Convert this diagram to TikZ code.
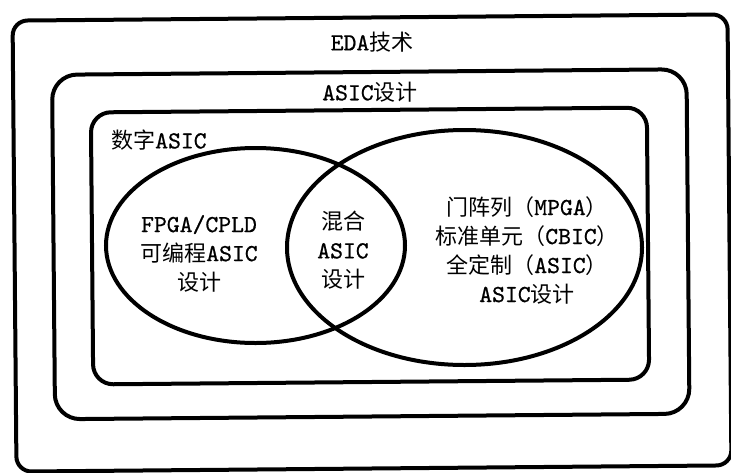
\documentclass[tikz,border=0pt]{standalone}
\usepackage{fontspec}
\newfontfamily\cjkfont{Noto Sans CJK SC}
\newfontfamily\latfont{lmmono10-regular.otf}[FakeBold=0.7]
\newcommand\zh[1]{{\cjkfont\fontsize{22}{29}\selectfont #1}}
\tikzset{
  boxline/.style={line width=4pt, rounded corners=#1},
  venn/.style={line width=4pt},
  lbl/.style={inner sep=0pt, font=\fontsize{24.5}{29}\selectfont\latfont, align=center},
}
\begin{document}
\begin{tikzpicture}[x=1pt,y=-1pt]
\useasboundingbox (0,0) rectangle (731,472);
\fill[white] (0,0) rectangle (731,472);
\begin{scope}[rotate around={0.5:(371,243)}]
  \draw[boxline=15pt] (14.5,17.5) rectangle (729.5,468.5);
  \draw[boxline=25pt] (53.5,72) rectangle (688,416.5);
  \draw[boxline=20pt] (92,110) rectangle (648,382);
\end{scope}
\draw[venn] (255.5,245.5) ellipse [x radius=149.5pt, y radius=97.5pt];
\draw[venn] (464.5,247.5) ellipse [x radius=177.5pt, y radius=117.5pt];
\node[lbl] (eda) at (372,42) {EDA\zh{技术}};
\node[lbl] (asic) at (370,92) {ASIC\zh{设计}};
\node[lbl, anchor=west] (digital) at (111,140) {\zh{数字}ASIC};
\node[lbl] (fpga) at (199,253.5) {FPGA/CPLD\\\zh{可编程}ASIC\\\zh{设计}};
\node[lbl] (mixed) at (343,250) {\zh{混合}\\ASIC\\\zh{设计}};
\node[lbl] (full) at (527,250) {\zh{门阵列（}MPGA\zh{）}\\\zh{标准单元（}CBIC\zh{）}\\\zh{全定制（}ASIC\zh{）}\\ASIC\zh{设计}};
\end{tikzpicture}
\end{document}
